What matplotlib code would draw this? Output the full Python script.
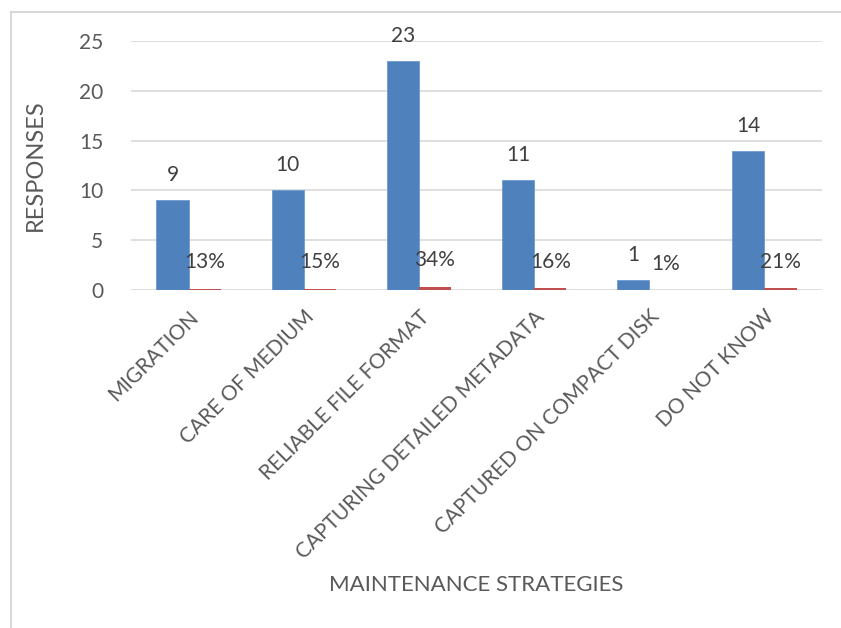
import matplotlib.pyplot as plt
from matplotlib.lines import Line2D
import numpy as np

plt.rcParams['font.family'] = ['Lato', 'DejaVu Sans']

categories = ['MIGRATION', 'CARE OF MEDIUM', 'RELIABLE FILE FORMAT',
              'CAPTURING DETAILED METADATA', 'CAPTURED ON COMPACT DISK', 'DO NOT KNOW']
responses = [9, 10, 23, 11, 1, 14]
percents = [0.13, 0.15, 0.34, 0.16, 0.01, 0.21]
pct_labels = ['13%', '15%', '34%', '16%', '1%', '21%']

text_col = '#595959'
blue = '#4F81BD'
red = '#C0504D'

fig = plt.figure(figsize=(8.41, 6.28), dpi=100)
ax = fig.add_axes([0.1558, 0.5382, 0.8216, 0.3965])

x = np.arange(len(categories))
w = 0.28
ax.bar(x - w / 2, responses, w, color=blue, edgecolor='#6F9AD0', linewidth=0.6, zorder=3)
ax.bar(x + w / 2, percents, w, color=red, zorder=3)

for i in x:
    ax.annotate(str(responses[i]), (i - w / 2, responses[i]), xytext=(0, 18),
                textcoords='offset points', ha='center', va='center',
                fontsize=15, color='#404040')
    ax.annotate(pct_labels[i], (i + w / 2, percents[i]), xytext=(0, 19),
                textcoords='offset points', ha='center', va='center',
                fontsize=15, color='#404040')

ax.set_xlim(-0.5, len(categories) - 0.5)
ax.set_ylim(0, 25)
ax.set_yticks([0, 5, 10, 15, 20, 25])
ax.grid(axis='y', color='#D9D9D9', linewidth=1.2, zorder=0)
for s in ax.spines.values():
    s.set_visible(False)
ax.tick_params(length=0)
ax.tick_params(axis='y', labelsize=15, labelcolor=text_col, pad=20)
ax.set_xticks(x)
ax.set_xticklabels(categories, rotation=45, ha='right', rotation_mode='anchor',
                   fontsize=15, color=text_col)
ax.tick_params(axis='x', pad=12)

fig.text(0.042, 0.737, 'RESPONSES', rotation=90, ha='center', va='center',
         fontsize=17, color=text_col)
fig.text(0.566, 0.068, 'MAINTENANCE STRATEGIES', ha='center', va='center',
         fontsize=16, color=text_col)

# chart frame edges visible in the reference
fig.add_artist(Line2D([0.0125, 1.0], [0.981, 0.981], transform=fig.transFigure,
                      color='#D9D9D9', linewidth=1.5))
fig.add_artist(Line2D([0.0125, 0.0125], [0.0, 0.981], transform=fig.transFigure,
                      color='#D9D9D9', linewidth=1.5))

fig.savefig('out.png', dpi=100)
